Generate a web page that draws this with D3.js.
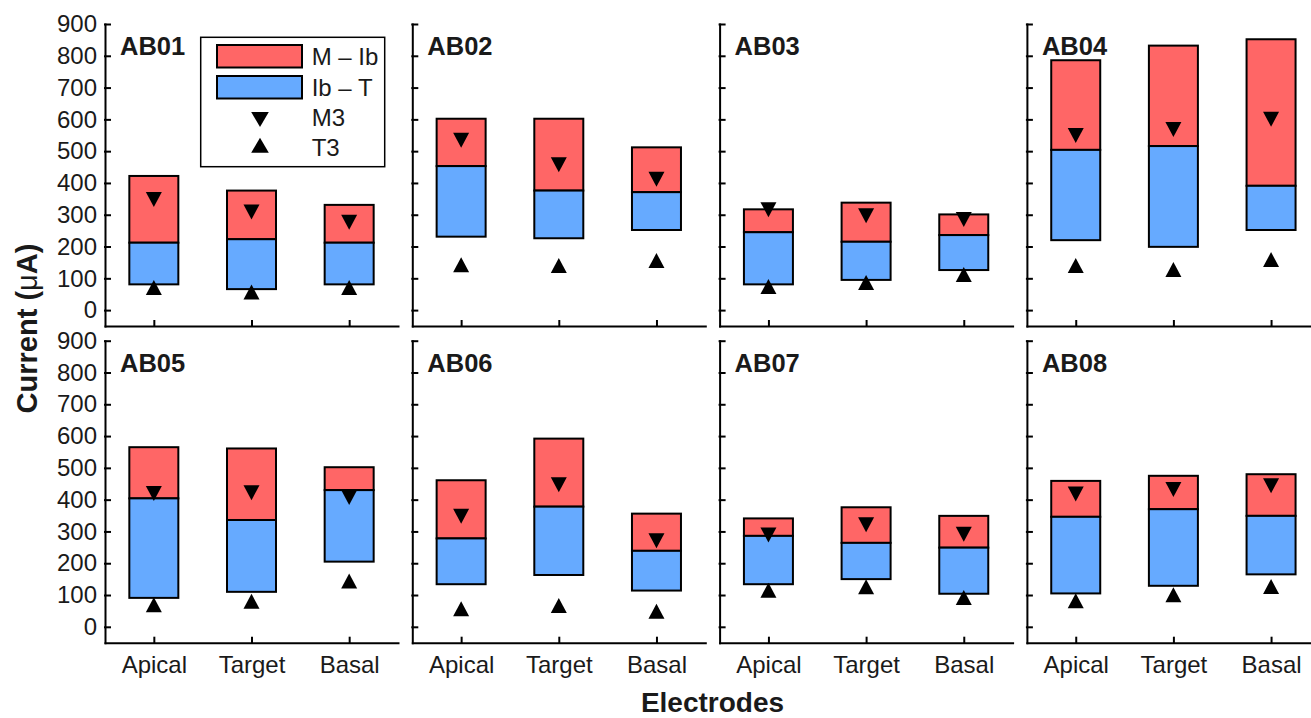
<!doctype html>
<html lang="en">
<head>
  <script src="https://cdnjs.cloudflare.com/ajax/libs/d3/7.8.5/d3.min.js"></script>
  <style type="text/css">
    body {
      padding: 0;
      margin: 0;
      background: #fff;
    }
    svg {
      display: block;
      font-family: "Liberation Sans", Arial, Helvetica, sans-serif;
    }
    .axis path, .axis line {
      stroke: #000;
      stroke-width: 2px;
      stroke-linecap: square;
    }
    .axis text {
      font-size: 24px;
      fill: #1a1a1a;
    }
  </style>
</head>
<body>
<svg id="canvas" width="1311" height="718"></svg>
<script>

// subjects and electrodes
var panels = ['AB01', 'AB02', 'AB03', 'AB04', 'AB05', 'AB06', 'AB07', 'AB08'];
var electrodes = ['Apical', 'Target', 'Basal'];

// M level (top of red), Ib level (red/blue boundary), T level (bottom of blue), in uA
var mLevel = [
  [422, 376, 331], [602, 602, 512], [317, 338, 301], [786, 832, 852],
  [565, 561, 502], [461, 592, 356], [341, 376, 349], [459, 475, 480]
];
var ibLevel = [
  [212, 223, 212], [453, 376, 371], [245, 215, 236], [504, 516, 391],
  [404, 336, 430], [278, 378, 239], [286, 264, 249], [346, 370, 349]
];
var tLevel = [
  [81, 66, 81], [231, 226, 252], [81, 95, 126], [220, 199, 252],
  [91, 110, 205], [134, 163, 114], [134, 150, 104], [105, 129, 165]
];
// M3 and T3 markers
var m3Level = [
  [348, 309, 276], [534, 457, 412], [316, 297, 285], [549, 568, 600],
  [419, 422, 407], [348, 447, 271], [289, 321, 291], [418, 432, 444]
];
var t3Level = [
  [71, 57, 71], [143, 140, 156], [74, 87, 112], [140, 128, 159],
  [69, 80, 144], [57, 67, 49], [115, 126, 92], [82, 101, 127]
];

var yTicks = [0, 100, 200, 300, 400, 500, 600, 700, 800, 900];
var legendLabels = ['M \u2013 Ib', 'Ib \u2013 T', 'M3', 'T3'];

var red = '#ff6666';
var blue = '#66aaff';

var panelLeft = 105;
var panelStep = 307.3;
var rowTop = [24, 340.7];
var panelWidth = 293;
var panelHeight = 302;
var barWidth = 49;

var svg = d3.select('#canvas');

var x = d3.scalePoint().domain(electrodes).range([0, panelWidth]).padding(0.5);
var y = d3.scaleLinear().domain([-50, 900]).range([panelHeight, 0]);

var downTri = 'M-8,-7.5L8,-7.5L0,7.5Z';
var upTri = 'M-8,7.5L8,7.5L0,-7.5Z';

panels.forEach(function(name, p) {
  var col = p % 4;
  var row = Math.floor(p / 4);
  var g = svg.append('g')
    .attr('transform', 'translate(' + (panelLeft + col * panelStep) + ',' + rowTop[row] + ')');

  var rows = electrodes.map(function(e, i) {
    return { e: e, m: mLevel[p][i], ib: ibLevel[p][i], t: tLevel[p][i],
             m3: m3Level[p][i], t3: t3Level[p][i] };
  });

  // red: Ib -> M
  g.selectAll('.red').data(rows).enter().append('rect')
    .attr('x', function(d) { return x(d.e) - barWidth / 2; })
    .attr('y', function(d) { return y(d.m); })
    .attr('width', barWidth)
    .attr('height', function(d) { return y(d.ib) - y(d.m); })
    .attr('fill', red)
    .attr('stroke', '#000')
    .attr('stroke-width', 2);

  // blue: T -> Ib
  g.selectAll('.blue').data(rows).enter().append('rect')
    .attr('x', function(d) { return x(d.e) - barWidth / 2; })
    .attr('y', function(d) { return y(d.ib); })
    .attr('width', barWidth)
    .attr('height', function(d) { return y(d.t) - y(d.ib); })
    .attr('fill', blue)
    .attr('stroke', '#000')
    .attr('stroke-width', 2);

  g.selectAll('.m3').data(rows).enter().append('path')
    .attr('d', downTri)
    .attr('transform', function(d) { return 'translate(' + x(d.e) + ',' + y(d.m3) + ')'; })
    .attr('fill', '#000');

  g.selectAll('.t3').data(rows).enter().append('path')
    .attr('d', upTri)
    .attr('transform', function(d) { return 'translate(' + x(d.e) + ',' + y(d.t3) + ')'; })
    .attr('fill', '#000');

  var yAxis = d3.axisLeft(y).tickValues(yTicks)
    .tickSizeInner(-5).tickSizeOuter(0).tickPadding(8);
  if (col > 0) yAxis.tickFormat('');
  g.append('g').attr('class', 'axis').call(yAxis);

  var xAxis = d3.axisBottom(x).tickSizeInner(-5).tickSizeOuter(0).tickPadding(13);
  if (row == 0) xAxis.tickFormat('');
  g.append('g').attr('class', 'axis')
    .attr('transform', 'translate(0,' + panelHeight + ')')
    .call(xAxis);

  g.selectAll('.axis text').attr('font-family', null).attr('font-size', null);

  g.append('text')
    .attr('x', 15)
    .attr('y', 31)
    .text(name)
    .style('font-weight', 'bold')
    .style('font-size', '25.5px')
    .style('fill', '#1a1a1a');
});

// legend inside first panel
var leg = svg.append('g');
leg.append('rect')
  .attr('x', 200.7).attr('y', 37.3)
  .attr('width', 184).attr('height', 129.4)
  .attr('fill', '#fff')
  .attr('stroke', '#000')
  .attr('stroke-width', 1.5);

var swatchColors = [red, blue];
leg.selectAll('.sw').data(swatchColors).enter().append('rect')
  .attr('x', 217)
  .attr('y', function(d, i) { return 45 + i * 31; })
  .attr('width', 85)
  .attr('height', 22.5)
  .attr('fill', function(d) { return d; })
  .attr('stroke', '#000')
  .attr('stroke-width', 2);

leg.append('path').attr('d', downTri).attr('transform', 'translate(260,119.5) scale(1.1,1)');
leg.append('path').attr('d', upTri).attr('transform', 'translate(260,145.3) scale(1.1,1)');

leg.selectAll('.lt').data(legendLabels).enter().append('text')
  .attr('x', 311.7)
  .attr('y', function(d, i) { return [65, 95.7, 126, 155.7][i]; })
  .text(function(d) { return d; })
  .style('font-size', '24px')
  .style('fill', '#1a1a1a');

// axis titles
var yl = svg.append('text')
  .attr('transform', 'translate(37,328.5) rotate(-90)')
  .attr('text-anchor', 'middle')
  .style('font-size', '29px')
  .style('font-weight', 'bold')
  .style('fill', '#1a1a1a');
yl.append('tspan').text('Current (');
yl.append('tspan').text('\u03bc').style('font-weight', 'normal');
yl.append('tspan').text('A)');

svg.append('text')
  .attr('x', 712.5)
  .attr('y', 712)
  .attr('text-anchor', 'middle')
  .text('Electrodes')
  .style('font-size', '28px')
  .style('font-weight', 'bold')
  .style('fill', '#1a1a1a');

</script>
</body>
</html>
